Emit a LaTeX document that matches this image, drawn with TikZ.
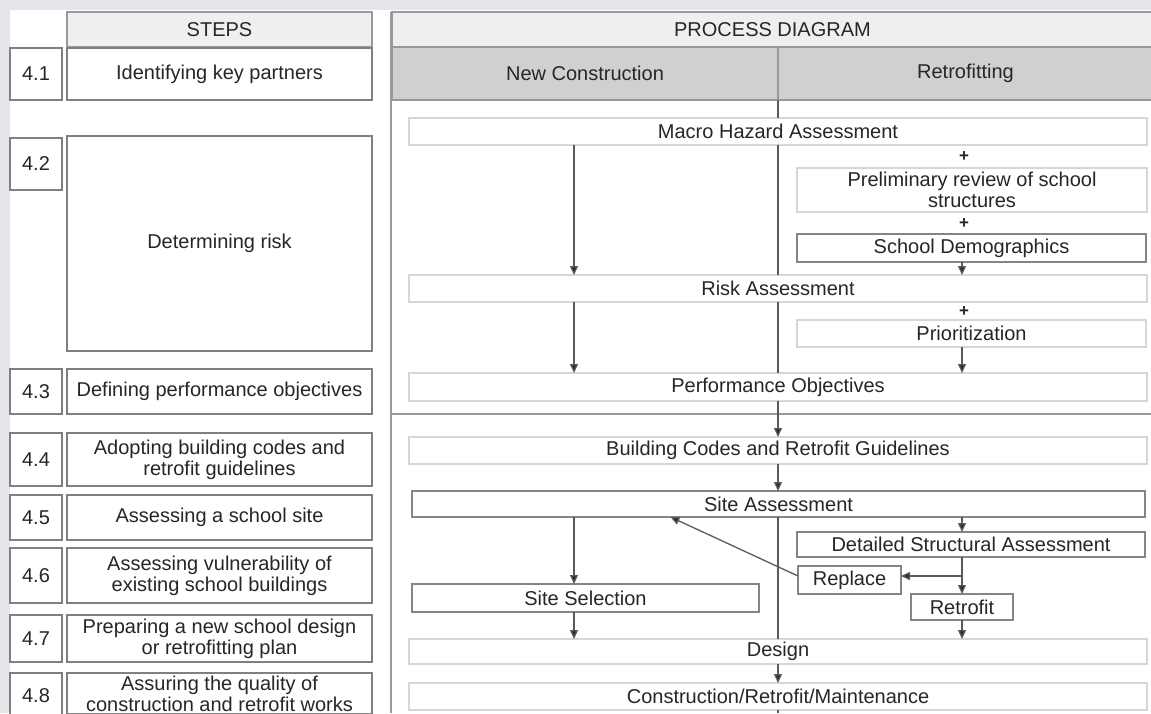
\documentclass[tikz,border=0pt]{standalone}
\usepackage{fontspec}
\setmainfont{Liberation Sans}
\usetikzlibrary{arrows.meta,calc}
\definecolor{bgc}{HTML}{E4E5E8}
\definecolor{txt}{HTML}{262626}
\definecolor{hdrlight}{HTML}{EFEFEF}
\definecolor{hdrdark}{HTML}{D0D0D0}
\definecolor{lightb}{HTML}{D6D6D6}
\definecolor{darkb}{HTML}{858585}
\definecolor{stepb}{HTML}{808080}
\definecolor{linec}{HTML}{5A5A5A}
\definecolor{tipc}{HTML}{2A2A2A}
\newcommand\bx[7]{\node[#6, anchor=north west, minimum width={(#4-#2)*1pt}, minimum height={(#5-#3)*1pt}] (#1) at (#2,#3) {#7};}
\tikzset{
  base/.style={inner sep=0pt, outer sep=0pt, align=center, text=txt, font=\fontsize{20}{21}\selectfont},
  stepbox/.style={base, draw=stepb, line width=1.3pt, fill=white},
  hdrbox/.style={base, draw=stepb!80, line width=1.2pt, fill=hdrlight},
  colbox/.style={base, draw=stepb!80, line width=1.2pt, fill=hdrdark},
  lbox/.style={base, draw=lightb, line width=1.4pt, fill=white},
  dbox/.style={base, draw=darkb, line width=1.3pt, fill=white},
  ln/.style={draw=linec, line width=1.3pt},
  arr/.style={ln, -{Triangle[width=8pt,length=9pt,fill=tipc]}},
  plus/.style={inner sep=0pt, text=txt, font=\fontsize{17}{17}\selectfont\bfseries}
}
\begin{document}
\begin{tikzpicture}[x=1pt,y=-1pt]
\useasboundingbox (0,0) rectangle (1151,713);
\clip (0,0) rectangle (1151,713);
\fill[white] (0,0) rectangle (1151,713);
\fill[bgc] (0,0) rectangle (1151,10);
\fill[bgc] (0,0) rectangle (10,713);
% panel borders
\coordinate (pt) at (391,12);
\coordinate (pb) at (391,713);
\draw[draw=stepb!80, line width=1.3pt] (pt) -- (pb);
\coordinate (hl) at (392,414);
\coordinate (hr) at (1151,414);
\draw[draw=stepb!80, line width=1.3pt] (hl) -- (hr);
% STEPS column
\bx{stepsH}{67}{12}{372}{47}{hdrbox}{STEPS}
\bx{n41}{10}{48}{62}{100}{stepbox}{4.1}
\bx{s41}{67}{48}{372}{100}{stepbox}{Identifying key partners}
\bx{n42}{10}{138}{62}{190}{stepbox}{4.2}
\bx{s42}{67}{136}{372}{351}{stepbox}{Determining risk}
\bx{n43}{10}{369}{62}{414}{stepbox}{4.3}
\bx{s43}{67}{369}{372}{414}{stepbox}{Defining performance objectives}
\bx{n44}{10}{433}{62}{486}{stepbox}{4.4}
\bx{s44}{67}{433}{372}{486}{stepbox}{Adopting building codes and\\retrofit guidelines}
\bx{n45}{10}{495}{62}{540}{stepbox}{4.5}
\bx{s45}{67}{495}{372}{540}{stepbox}{Assessing a school site}
\bx{n46}{10}{548}{62}{603}{stepbox}{4.6}
\bx{s46}{67}{548}{372}{603}{stepbox}{Assessing vulnerability of\\existing school buildings}
\bx{n47}{10}{615}{62}{662}{stepbox}{4.7}
\bx{s47}{67}{615}{372}{662}{stepbox}{Preparing a new school design\\or retrofitting plan}
\bx{n48}{10}{673}{62}{718}{stepbox}{4.8}
\bx{s48}{67}{673}{372}{714}{stepbox}{Assuring the quality of\\construction and retrofit works}
% PROCESS column headers
\bx{procH}{392}{12}{1153}{47}{hdrbox}{PROCESS DIAGRAM}
\bx{ncH}{392}{47}{778}{100}{colbox}{New Construction}
\bx{rfH}{778}{47}{1153}{100}{colbox}{Retrofitting}
\coordinate (lc) at (574,0);
\coordinate (rc) at (962,0);
% process boxes
\bx{mha}{409}{118}{1147}{145}{lbox}{Macro Hazard Assessment}
\bx{prs}{797}{168}{1147}{212}{lbox}{Preliminary review of school\\structures}
\bx{sd}{797}{234}{1146}{262}{dbox}{School Demographics}
\bx{ra}{409}{275}{1147}{302}{lbox}{Risk Assessment}
\bx{pri}{797}{320}{1146}{347}{lbox}{Prioritization}
\bx{po}{409}{373}{1147}{401}{lbox}{Performance Objectives}
\bx{bc}{409}{437}{1147}{464}{lbox}{Building Codes and Retrofit Guidelines}
\bx{sa}{412}{491}{1145}{517}{dbox}{Site Assessment}
\bx{dsa}{797}{532}{1145}{557}{dbox}{Detailed Structural Assessment}
\bx{rep}{798}{566}{901}{594}{dbox}{Replace}
\bx{ret}{911}{594}{1013}{620}{dbox}{Retrofit}
\bx{ss}{412}{584}{759}{612}{dbox}{Site Selection}
\bx{des}{409}{639}{1147}{664}{lbox}{Design}
\bx{crm}{409}{683}{1147}{710}{lbox}{Construction/Retrofit/Maintenance}
% plus signs
\node[plus] (p1) at (964,157) {+};
\node[plus] (p2) at (964,224) {+};
\node[plus] (p3) at (964,312) {+};
% center line
\coordinate (cb) at (778,713);
\draw[ln] (ncH.south east) -- (mha.north);
\draw[ln] (mha.south) -- (ra.north);
\draw[ln] (ra.south) -- (po.north);
\draw[ln] (po.south) -- (hl -| po.south);
\draw[arr] (hl -| po.south) -- (bc.north);
\draw[arr] (bc.south) -- (sa.north -| bc.south);
\draw[ln] (sa.south -| des.north) -- (des.north);
\draw[arr] (des.south) -- (crm.north);
\draw[ln] (crm.south) -- (cb);
% left column arrows
\draw[arr] (mha.south -| lc) -- (ra.north -| lc);
\draw[arr] (ra.south -| lc) -- (po.north -| lc);
\draw[arr] (sa.south -| lc) -- (ss.north -| lc);
\draw[arr] (ss.south -| lc) -- (des.north -| lc);
% right column arrows
\draw[arr] (sd.south -| rc) -- (ra.north -| rc);
\draw[arr] (pri.south -| rc) -- (po.north -| rc);
\draw[arr] (sa.south -| rc) -- (dsa.north -| rc);
\draw[arr] (dsa.south -| rc) -- (ret.north);
\coordinate (br) at (962,576);
\draw[arr] (br) -- (br -| rep.east);
\draw[arr] (ret.south) -- (des.north -| ret.south);
\draw[arr] ([yshift=4pt]rep.west) -- ([xshift=-108pt]sa.south);
\end{tikzpicture}
\end{document}
